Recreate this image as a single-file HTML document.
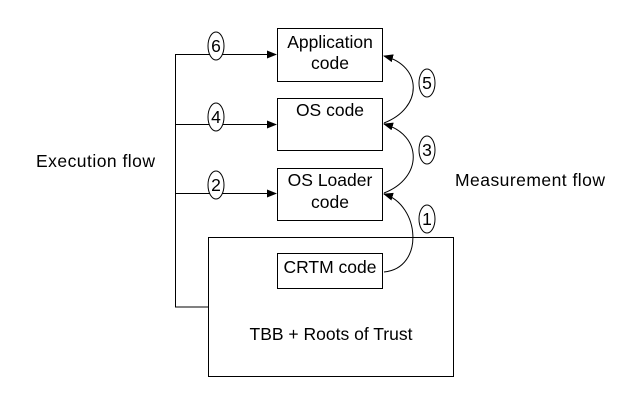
<!DOCTYPE html>
<html><head><style>body{margin:0;background:#fff}</style></head><body>
<svg width="637" height="400" xmlns="http://www.w3.org/2000/svg" font-family="Liberation Sans, sans-serif" font-size="17.5">
<defs><marker id="a" markerWidth="10" markerHeight="8" refX="9" refY="4" orient="auto" markerUnits="userSpaceOnUse"><path d="M0,0L10,4L0,8z" fill="#000"/></marker></defs>
<g fill="none" stroke="#000" stroke-width="1">
<rect x="208.5" y="237.5" width="245" height="139"/>
<rect x="277.5" y="28.5" width="105" height="53" fill="#fff"/>
<rect x="277.5" y="98.5" width="105" height="52" fill="#fff"/>
<rect x="277.5" y="168.5" width="105" height="52" fill="#fff"/>
<rect x="277.5" y="253.5" width="105" height="35" fill="#fff"/>
<path d="M175.5,54V307H208"/>
<path d="M175,54.5H276" marker-end="url(#a)"/>
<path d="M175,124.5H276" marker-end="url(#a)"/>
<path d="M175,193.5H276" marker-end="url(#a)"/>
<path d="M384,272 C425,268 420,205 384,194" marker-end="url(#a)"/>
<path d="M384,193 C423,178 423,135 384,124" marker-end="url(#a)"/>
<path d="M384,123 C423,108 423,66 384,56" marker-end="url(#a)"/>
</g>
<g fill="#fff" stroke="#000">
<ellipse cx="216" cy="46" rx="8" ry="14"/><ellipse cx="216" cy="117" rx="8" ry="14"/><ellipse cx="216" cy="185" rx="8" ry="14"/>
<ellipse cx="427" cy="83" rx="8" ry="14"/><ellipse cx="427" cy="150" rx="8" ry="14"/><ellipse cx="427" cy="219" rx="8" ry="14"/>
</g>
<g text-anchor="middle">
<text x="216" y="52">6</text><text x="216" y="123">4</text><text x="216" y="191">2</text>
<text x="427" y="89">5</text><text x="427" y="156">3</text><text x="427" y="225">1</text>
<text x="330" y="48">Application</text><text x="330" y="69">code</text>
<text x="330" y="116">OS code</text>
<text x="330" y="186">OS Loader</text><text x="330" y="208">code</text>
<text x="330" y="273">CRTM code</text>
<text x="331" y="340">TBB + Roots of Trust</text>
</g>
<text x="36" y="167" textLength="119">Execution flow</text>
<text x="455" y="186" textLength="150">Measurement flow</text>
</svg>
</body></html>
